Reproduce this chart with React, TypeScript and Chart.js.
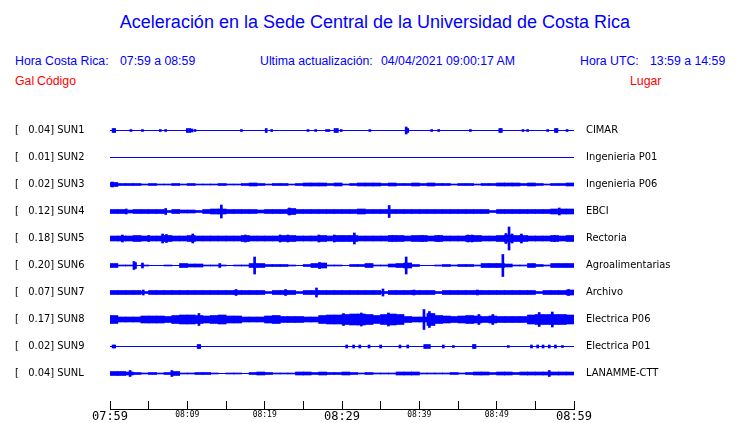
import { useEffect, useRef } from 'react';
import { Chart, registerables } from 'chart.js';

Chart.register(...registerables);

// ---- data -------------------------------------------------------------
const TIME_TICK_LABELS = ['07:59', '', '08:09', '', '08:19', '', '08:29', '', '08:39', '', '08:49', '', '08:59'];
const STATION_CODES = ['SUN1', 'SUN2', 'SUN3', 'SUN4', 'SUN5', 'SUN6', 'SUN7', 'SUN8', 'SUN9', 'SUNL'];
const PEAK_GAL = [0.04, 0.01, 0.02, 0.12, 0.18, 0.2, 0.07, 0.17, 0.02, 0.04];
const STATION_NAMES = ['CIMAR', 'Ingenieria P01', 'Ingenieria P06', 'EBCI', 'Rectoria', 'Agroalimentarias', 'Archivo', 'Electrica P06', 'Electrica P01', 'LANAMME-CTT'];

// per-minute half-amplitude of the noise band (trace units)
const SUN1_BAND: number[] = [];
const SUN2_BAND: number[] = [];
const SUN3_BAND = [2, 1, 1, 1, 0.5, 1, 0.5, 0.5, 1, 0.5, 1, 0.5, 0.5, 0.5, 1, 0.5, 0.5, 1, 1.5, 1, 0.5, 1, 1, 0.5, 1, 1.5, 1.5, 1.5, 1, 1.5, 0.5, 1, 1.5, 1.5, 1.5, 1, 1.5, 1, 1, 1.5, 1, 1.5, 1, 1, 0.5, 1, 1, 0.5, 1, 1, 1.5, 1.5, 1.5, 1, 1.5, 1, 0.5, 1, 1, 1.5];
const SUN4_BAND = [2, 2, 1.5, 2, 2, 2, 2, 1, 2, 1.5, 1.5, 1, 2, 2.5, 2.5, 2, 2, 2, 2, 1.5, 2, 2, 2, 3, 2, 2, 2, 2, 2, 2, 2, 2, 2.5, 2, 2, 2, 2, 2, 2, 2, 2, 2, 2, 2, 2, 2, 2, 2, 2, 1, 2, 2, 2, 2, 2, 2, 2, 2.5, 2.5, 2.5];
const SUN5_BAND = [2.5, 2.5, 2.5, 3, 2.5, 2.5, 2.5, 3, 2.5, 2.5, 3, 2.5, 2.5, 2.5, 2.5, 2.5, 2.5, 3, 2.5, 2.5, 2.5, 2.5, 3, 3, 2.5, 2.5, 2.5, 3, 2.5, 3, 3, 3, 2.5, 2.5, 2.5, 2.5, 3, 3, 2.5, 3, 3, 2.5, 3, 2.5, 2.5, 2.5, 3, 3, 2.5, 2.5, 3, 3.5, 3, 3, 2.5, 2.5, 2.5, 3, 2.5, 3];
const SUN6_BAND = [2, 0.5, 0.5, 0, 0.5, 0, 0, 0.5, 0, 2, 1.5, 1.5, 0.5, 0.5, 0.5, 0, 0.5, 0.5, 2, 2, 1, 1, 1, 0.5, 0, 1, 2, 2.5, 0.5, 0.5, 0, 1, 1, 2, 0.5, 0.5, 1.5, 2, 2.5, 1, 0, 0, 0.5, 1, 0.5, 1, 1, 0.5, 2, 2, 2, 1.5, 0.5, 0.5, 2, 1, 0.5, 2, 2, 2];
const SUN7_BAND = [2, 2, 2, 2, 1, 2, 2, 2, 2, 2, 2, 2, 2, 2, 2, 2, 2, 2, 2, 2, 1, 2, 2, 2, 1, 2, 2, 2, 2, 2, 2, 2, 2, 2, 2, 1, 2, 2, 2, 2, 2, 2, 1, 2, 2, 2, 2, 2, 2, 2, 2, 2, 2, 2, 2, 1, 2, 2, 2, 2.5];
const SUN8_BAND = [4, 2.5, 2.5, 2.5, 3.5, 3.5, 3.5, 3, 4, 4.5, 4.5, 4, 3.5, 4, 4.5, 3.5, 3.5, 2.5, 2.5, 2.5, 3.5, 4, 3, 3, 3, 2.5, 2.5, 4, 4.5, 4.5, 5, 5.5, 5.5, 5, 4, 5, 5.5, 5, 3, 2.5, 2.5, 6, 4, 3.5, 3, 3.5, 4, 3.5, 3, 3.5, 3, 3, 3, 3, 4.5, 5, 5, 5, 5, 4.5];
const SUN9_BAND: number[] = [];
const SUNL_BAND = [2, 2, 1.5, 1, 0.5, 1, 0.5, 1, 2, 0.5, 0.5, 1, 1, 0.5, 0, 0.5, 0.5, 0, 1, 1.5, 1, 0.5, 0.5, 0.5, 1.5, 1.5, 1, 1.5, 1, 1, 1.5, 1, 0.5, 1, 0.5, 0.5, 0.5, 1.5, 1.5, 1.5, 0.5, 0.5, 0.5, 0.5, 1, 0.5, 1, 1.5, 1.5, 1, 1.5, 1.5, 1, 1.5, 1.5, 1.5, 1.5, 1.5, 1.5, 1.5];

// individual bursts: [minute after 07:59, half-amplitude]
const SUN1_SPIKES = [[0.4, 2], [0.6, 2], [2.7, 1], [4.2, 1], [6.5, 1], [7.2, 1], [10.0, 2], [10.3, 2], [10.6, 1.5], [11, 1], [17.0, 1], [20.2, 2], [20.9, 1], [25.6, 1], [26.6, 1], [28, 1], [28.3, 1], [29.1, 2], [29.4, 2], [29.9, 1], [33.6, 1], [38.3, 3.5], [38.5, 2], [41.6, 1], [42.5, 1], [46.6, 1], [50.4, 2], [50.6, 2], [53.4, 1], [54, 1], [56.6, 1], [57.6, 2], [57.8, 2], [59.1, 1]];
const SUN2_SPIKES: number[][] = [];
const SUN3_SPIKES = [[0.3, 2.5]];
const SUN4_SPIKES = [[14.4, 6.5], [36.1, 6], [23.2, 3.5], [7.2, 3], [58.1, 3.5], [2.1, 2.5]];
const SUN5_SPIKES = [[1.6, 3.5], [5, 3], [6.8, 4.5], [7.3, 4], [10.7, 4.5], [17.5, 3.5], [22, 3.5], [23, 3.5], [27, 3.5], [29, 3.5], [31.6, 5.5], [36.5, 3], [40.4, 3], [42.5, 3], [46.3, 3.5], [46.8, 3.5], [51.2, 5], [51.6, 11.5], [52, 4.5], [53.2, 4.5], [57.5, 3]];
const SUN6_SPIKES = [[3.1, 4], [3.3, 3], [18.7, 8.5], [27.1, 3], [38.3, 8.5], [50.8, 11], [4.2, 2.5], [14.2, 2]];
const SUN7_SPIKES = [[4.3, 2.5], [16.3, 3], [22.7, 3], [26.7, 4.5], [35.3, 3.5], [39.3, 2.5], [47.5, 2.5], [59.3, 3]];
const SUN8_SPIKES = [[11.5, 6], [30.2, 6], [32.5, 6.5], [36, 6.5], [40.6, 10], [41.3, 8], [47.7, 5], [49.5, 5], [55.5, 7], [57.2, 7.5]];
const SUN9_SPIKES = [[0.4, 1.5], [0.6, 1.5], [11.4, 2], [11.6, 2], [30.6, 1.5], [31.5, 1.5], [32.3, 1.5], [33.5, 1.5], [35, 1.5], [37.5, 1.5], [38.5, 1.5], [40.7, 2], [41, 2], [41.3, 2], [43.1, 1.5], [44.4, 1], [47, 2], [47.2, 2], [51.5, 1], [54.5, 1.5], [55.3, 1.5], [56, 1.5], [56.8, 1.5], [57.6, 1.5], [58.5, 1]];
const SUNL_SPIKES = [[2.6, 3], [8, 3], [56.8, 3]];

const BANDS = [SUN1_BAND, SUN2_BAND, SUN3_BAND, SUN4_BAND, SUN5_BAND, SUN6_BAND, SUN7_BAND, SUN8_BAND, SUN9_BAND, SUNL_BAND];
const SPIKES = [SUN1_SPIKES, SUN2_SPIKES, SUN3_SPIKES, SUN4_SPIKES, SUN5_SPIKES, SUN6_SPIKES, SUN7_SPIKES, SUN8_SPIKES, SUN9_SPIKES, SUNL_SPIKES];

// ---- layout / style ----------------------------------------------------
const BLUE = '#0000ff';
const RED = '#ff0000';
const SPAN_MIN = 60;
const ROW_FIRST = 30.5;
const ROW_STEP = 27;
const Y_RANGE = 309;
const rowCenter = (i: number) => ROW_FIRST + i * ROW_STEP;

const textStyle = (size: number, color: string, left: number, top: number): any => ({
  position: 'absolute',
  left,
  top,
  fontFamily: '"Liberation Sans", Arial, sans-serif',
  fontSize: size,
  lineHeight: `${size}px`,
  color,
  whiteSpace: 'pre',
  margin: 0,
});

const zeroPad = (s: any) => {
  s.paddingTop = 0;
  s.paddingBottom = 0;
  s.paddingLeft = 0;
  s.paddingRight = 0;
};

export default function App() {
  const canvasRef = useRef<HTMLCanvasElement | null>(null);

  useEffect(() => {
    const canvas = canvasRef.current;
    if (!canvas) return;
    const datasets: any[] = [];
    STATION_CODES.forEach((_, i) => {
      const c = rowCenter(i);
      datasets.push({
        type: 'line',
        data: [{ x: 0, y: c }, { x: SPAN_MIN, y: c }],
        borderColor: BLUE,
        borderWidth: 1,
        pointRadius: 0,
        yAxisID: 'y',
        order: 1,
      });
      const band = BANDS[i];
      if (band.length) {
        datasets.push({
          type: 'bar',
          data: band.map((a, m) => ({ x: m + 0.5, y: [c - a, c + a] })).filter((d, m) => band[m] > 0),
          backgroundColor: BLUE,
          borderWidth: 0,
          barThickness: 8,
          grouped: false,
          yAxisID: 'y',
          order: 2,
        });
      }
      const sp = SPIKES[i];
      if (sp.length) {
        datasets.push({
          type: 'bar',
          data: sp.map(([m, a]) => ({ x: m, y: [c - a, c + a] })),
          backgroundColor: BLUE,
          borderWidth: 0,
          barThickness: 2,
          grouped: false,
          yAxisID: 'y',
          order: 0,
        });
      }
    });

    const rowTicks = (s: any) => {
      s.ticks = STATION_CODES.map((_, i) => ({ value: rowCenter(i) }));
    };
    const labelFont = { family: '"DejaVu Sans Condensed", "DejaVu Sans", sans-serif', size: 11 };

    const chart = new Chart(canvas, {
      type: 'bar',
      data: { datasets },
      options: {
        responsive: false,
        animation: false,
        devicePixelRatio: 1,
        layout: { padding: { left: 15, right: 0, top: 100, bottom: 0 } },
        plugins: { legend: { display: false }, tooltip: { enabled: false }, title: { display: false } },
        scales: {
          x: {
            type: 'linear',
            min: 0,
            max: SPAN_MIN,
            offset: false,
            position: 'bottom',
            afterBuildTicks: (s: any) => {
              s.ticks = TIME_TICK_LABELS.map((_, i) => ({ value: (i * SPAN_MIN) / (TIME_TICK_LABELS.length - 1) }));
            },
            afterFit: (s: any) => {
              s.height = 14;
              zeroPad(s);
            },
            ticks: {
              autoSkip: false,
              maxRotation: 0,
              minRotation: 0,
              padding: 9,
              color: '#000',
              font: (ctx: any) =>
                ctx.index % 6 === 0
                  ? { family: '"DejaVu Sans Mono", monospace', size: 12 }
                  : { family: '"DejaVu Sans Mono", monospace', size: 8 },
              callback: (_v: any, i: number) => TIME_TICK_LABELS[i],
            },
            grid: { drawOnChartArea: false, drawTicks: true, tickLength: -8, color: '#000', offset: false, lineWidth: 1 },
            border: { display: true, color: '#000', width: 1 },
          },
          y: {
            type: 'linear',
            position: 'left',
            reverse: true,
            min: 0,
            max: Y_RANGE,
            afterBuildTicks: rowTicks,
            afterFit: (s: any) => {
              s.width = 95;
              zeroPad(s);
            },
            ticks: {
              autoSkip: false,
              crossAlign: 'far',
              padding: 0,
              color: '#000',
              font: labelFont,
              callback: (_v: any, i: number) => `[   ${PEAK_GAL[i].toFixed(2)}] ${STATION_CODES[i]}`,
            },
            grid: { display: false, drawTicks: false },
            border: { display: false },
          },
          y2: {
            type: 'linear',
            position: 'right',
            reverse: true,
            min: 0,
            max: Y_RANGE,
            afterBuildTicks: rowTicks,
            afterFit: (s: any) => {
              s.width = 166;
              zeroPad(s);
            },
            ticks: {
              autoSkip: false,
              crossAlign: 'near',
              padding: 12,
              color: '#000',
              font: labelFont,
              callback: (_v: any, i: number) => STATION_NAMES[i],
            },
            grid: { display: false, drawTicks: false },
            border: { display: false },
          },
        },
      } as any,
    });
    return () => chart.destroy();
  }, []);

  return (
    <div style={{ position: 'absolute', left: 0, top: 0, width: 740, height: 423, background: '#fff' }}>
      <div style={{ ...textStyle(18, BLUE, 5, 13), width: 740, textAlign: 'center' }}>
        Aceleración en la Sede Central de la Universidad de Costa Rica
      </div>
      <div style={textStyle(12.3, BLUE, 15, 55)}>Hora Costa Rica:</div>
      <div style={textStyle(12.3, BLUE, 120, 55)}>07:59 a 08:59</div>
      <div style={textStyle(12.3, BLUE, 260, 55)}>Ultima actualización:</div>
      <div style={textStyle(12.3, BLUE, 381, 55)}>04/04/2021 09:00:17 AM</div>
      <div style={textStyle(12.3, BLUE, 580, 55)}>Hora UTC:</div>
      <div style={textStyle(12.3, BLUE, 650, 55)}>13:59 a 14:59</div>
      <div style={textStyle(12.3, RED, 15, 75)}>Gal</div>
      <div style={textStyle(12.3, RED, 37, 75)}>Código</div>
      <div style={textStyle(12.3, RED, 630, 75)}>Lugar</div>
      <canvas ref={canvasRef} width={740} height={423} style={{ position: 'absolute', left: 0, top: 0 }} />
    </div>
  );
}
